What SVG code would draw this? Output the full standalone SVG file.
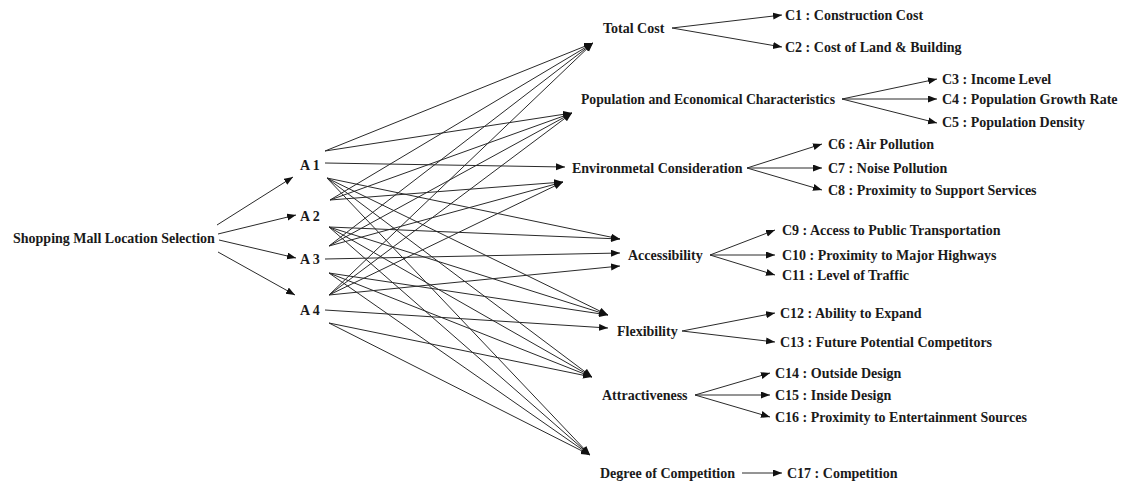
<svg xmlns="http://www.w3.org/2000/svg" width="1121" height="483" viewBox="0 0 1121 483">
<style>
text{font-family:"Liberation Serif","Times New Roman",serif;font-size:14px;font-weight:bold;fill:#1a1a1a}
.e{stroke:#2a2a2a;stroke-width:1;fill:none;marker-end:url(#ah)}
</style>
<defs>
<marker id="ah" markerUnits="userSpaceOnUse" markerWidth="10" markerHeight="8" refX="9" refY="3.5" orient="auto">
<path d="M0,0 L9,3.5 L0,7 z" fill="#111"/>
</marker>
</defs>
<rect width="1121" height="483" fill="#fff"/>
<g id="connectors">
<line class="e" x1="217" y1="225" x2="293" y2="177"/>
<line class="e" x1="218" y1="234" x2="296" y2="215"/>
<line class="e" x1="219" y1="240" x2="296" y2="258"/>
<line class="e" x1="218" y1="252" x2="295" y2="295"/>
<line class="e" x1="325" y1="151" x2="593" y2="43"/>
<line class="e" x1="325" y1="151" x2="572" y2="113"/>
<line class="e" x1="325" y1="163" x2="565" y2="167"/>
<line class="e" x1="327" y1="178" x2="620" y2="239"/>
<line class="e" x1="327" y1="178" x2="608" y2="315"/>
<line class="e" x1="327" y1="178" x2="592" y2="377"/>
<line class="e" x1="327" y1="178" x2="590" y2="455"/>
<line class="e" x1="330" y1="200" x2="593" y2="43"/>
<line class="e" x1="330" y1="200" x2="572" y2="113"/>
<line class="e" x1="330" y1="200" x2="563" y2="182"/>
<line class="e" x1="329" y1="227" x2="620" y2="239"/>
<line class="e" x1="329" y1="227" x2="608" y2="315"/>
<line class="e" x1="329" y1="227" x2="592" y2="377"/>
<line class="e" x1="329" y1="227" x2="590" y2="455"/>
<line class="e" x1="329" y1="246" x2="593" y2="43"/>
<line class="e" x1="329" y1="246" x2="572" y2="113"/>
<line class="e" x1="329" y1="246" x2="563" y2="182"/>
<line class="e" x1="325" y1="259" x2="620" y2="253"/>
<line class="e" x1="329" y1="273" x2="608" y2="315"/>
<line class="e" x1="329" y1="273" x2="592" y2="377"/>
<line class="e" x1="329" y1="273" x2="590" y2="455"/>
<line class="e" x1="329" y1="295" x2="593" y2="43"/>
<line class="e" x1="329" y1="295" x2="572" y2="113"/>
<line class="e" x1="329" y1="295" x2="563" y2="182"/>
<line class="e" x1="329" y1="295" x2="620" y2="266"/>
<line class="e" x1="325" y1="310" x2="608" y2="328"/>
<line class="e" x1="329" y1="323" x2="592" y2="377"/>
<line class="e" x1="329" y1="323" x2="590" y2="455"/>
<line class="e" x1="672" y1="28" x2="782" y2="15"/>
<line class="e" x1="672" y1="28" x2="782" y2="47"/>
<line class="e" x1="842" y1="99" x2="937" y2="79"/>
<line class="e" x1="842" y1="99" x2="937" y2="99"/>
<line class="e" x1="842" y1="99" x2="937" y2="123"/>
<line class="e" x1="747" y1="168" x2="822" y2="144"/>
<line class="e" x1="747" y1="168" x2="822" y2="168"/>
<line class="e" x1="747" y1="168" x2="822" y2="190"/>
<line class="e" x1="710" y1="255" x2="775" y2="230"/>
<line class="e" x1="710" y1="255" x2="775" y2="255"/>
<line class="e" x1="710" y1="255" x2="775" y2="275"/>
<line class="e" x1="682" y1="331" x2="775" y2="313"/>
<line class="e" x1="682" y1="331" x2="775" y2="342"/>
<line class="e" x1="695" y1="395" x2="770" y2="373"/>
<line class="e" x1="695" y1="395" x2="770" y2="395"/>
<line class="e" x1="695" y1="395" x2="770" y2="417"/>
<line class="e" x1="742" y1="473" x2="782" y2="473"/>
</g>
<g id="goal"><text x="13" y="243">Shopping Mall Location Selection</text></g>
<g id="a1"><text x="300" y="170">A 1</text></g>
<g id="a2"><text x="300" y="221">A 2</text></g>
<g id="a3"><text x="300" y="264">A 3</text></g>
<g id="a4"><text x="300" y="315">A 4</text></g>
<g id="total-cost"><text x="603" y="33">Total Cost</text></g>
<g id="population"><text x="581" y="104" textLength="254" lengthAdjust="spacingAndGlyphs">Population and Economical Characteristics</text></g>
<g id="environmental"><text x="572" y="173">Environmetal Consideration</text></g>
<g id="accessibility"><text x="628" y="260">Accessibility</text></g>
<g id="flexibility"><text x="617" y="336">Flexibility</text></g>
<g id="attractiveness"><text x="602" y="400">Attractiveness</text></g>
<g id="degree"><text x="600" y="478">Degree of Competition</text></g>
<g id="c1"><text x="785" y="20">C1 : Construction Cost</text></g>
<g id="c2"><text x="785" y="52">C2 : Cost of Land &amp; Building</text></g>
<g id="c3"><text x="942" y="84">C3 : Income Level</text></g>
<g id="c4"><text x="942" y="104">C4 : Population Growth Rate</text></g>
<g id="c5"><text x="942" y="127">C5 : Population Density</text></g>
<g id="c6"><text x="828" y="149">C6 : Air Pollution</text></g>
<g id="c7"><text x="828" y="173">C7 : Noise Pollution</text></g>
<g id="c8"><text x="828" y="195">C8 : Proximity to Support Services</text></g>
<g id="c9"><text x="782" y="235">C9 : Access to Public Transportation</text></g>
<g id="c10"><text x="782" y="260">C10 : Proximity to Major Highways</text></g>
<g id="c11"><text x="782" y="280">C11 : Level of Traffic</text></g>
<g id="c12"><text x="780" y="318">C12 : Ability to Expand</text></g>
<g id="c13"><text x="780" y="347">C13 : Future Potential Competitors</text></g>
<g id="c14"><text x="775" y="378">C14 : Outside Design</text></g>
<g id="c15"><text x="775" y="400">C15 : Inside Design</text></g>
<g id="c16"><text x="775" y="422">C16 : Proximity to Entertainment Sources</text></g>
<g id="c17"><text x="787" y="478">C17 : Competition</text></g>
</svg>
